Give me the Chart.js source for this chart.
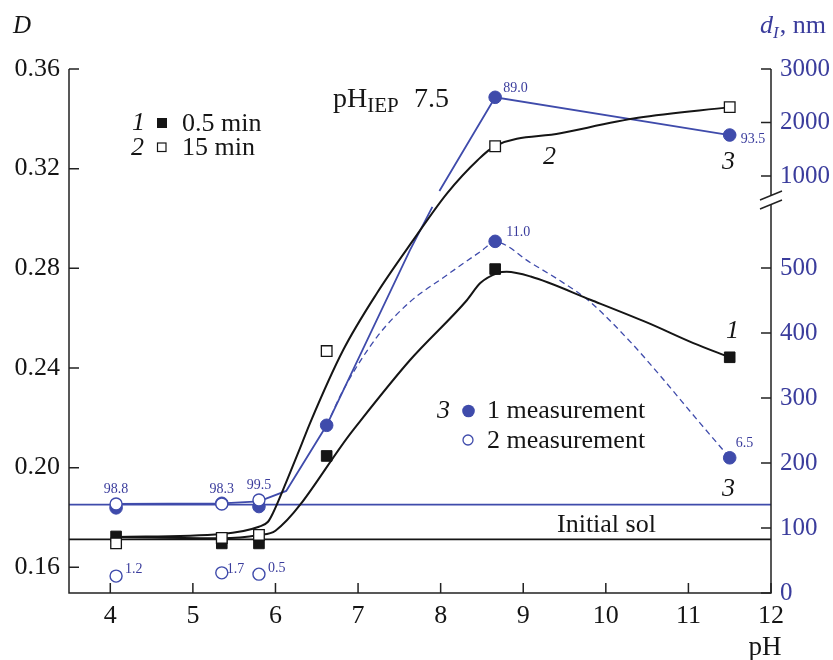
<!DOCTYPE html>
<html>
<head>
<meta charset="utf-8">
<script src="https://cdn.jsdelivr.net/npm/chart.js@4.4.1/dist/chart.umd.min.js"></script>
<style>
  html, body { margin:0; padding:0; background:#fff; }
  #wrap { width:833px; height:660px; position:relative; }
</style>
</head>
<body>
<div id="wrap"><canvas id="c"></canvas></div>
<script>
const SERIF = "'Liberation Serif', 'DejaVu Serif', serif";
const INK = '#151515';
const BLUE = '#3f4bab';
const BLUE_TXT = '#3a3c9c';

// axes
const xMin = 3.5, xMax = 12;
const xTicks = [4, 5, 6, 7, 8, 9, 10, 11, 12];
const dTicks = [0.16, 0.20, 0.24, 0.28, 0.32, 0.36];
const nmTicks = [0, 100, 200, 300, 400, 500, 1000, 2000, 3000];

// optical density D, measured points
const phPts = [4.07, 5.35, 5.8, 6.62, 8.66, 11.5];
const dHalfMin = [0.1724, 0.1696, 0.1696, 0.2047, 0.2797, 0.2443];
const d15Min = [0.1696, 0.1718, 0.1730, 0.2468, 0.3290, 0.3447];

// particle size d_I, nm : 1 measurement (filled), 2 measurement (open)
const nm1Ph = [4.07, 5.35, 5.8, 6.62, 8.66, 11.5, 8.66, 11.5];
const nm1 = [131, 138, 133, 258, 2471, 1766, 541, 208];
const nm2Ph = [4.07, 5.35, 5.8, 4.07, 5.35, 5.8];
const nm2 = [137, 137, 143, 26, 31, 29];

// fraction share (%) printed beside the points
const pctText = ['98.8', '98.3', '99.5', '89.0', '93.5', '11.0', '6.5', '1.2', '1.7', '0.5'];
const pctPh = [4.07, 5.35, 5.8, 8.66, 11.5, 8.66, 11.5, 4.07, 5.35, 5.8];
const pctNm = [137, 137, 143, 2471, 1766, 541, 208, 26, 31, 29];
const pctOffset = [[0,-11,'center'],[0,-11,'center'],[0,-11,'center'],[8,-5,'left'],[11,8,'left'],
                   [11,-5,'left'],[6,-11,'left'],[9,-3,'left'],[5,0,'left'],[9,-2,'left']];

// fitted curves
const fit1Ph = [4.07, 5.35, 5.8, 6.0, 6.94, 7.63, 8.32, 8.48, 8.69, 8.8, 9.09, 9.82, 10.51, 11.06, 11.5];
const fit1D = [0.1722, 0.1717, 0.1730, 0.1747, 0.2151, 0.2432, 0.2673, 0.2741, 0.2781, 0.2786, 0.2767, 0.2673, 0.2581, 0.2500, 0.2443];
const fit2Ph = [4.07, 5.35, 5.8, 5.91, 5.97, 6.14, 6.30, 6.42, 6.82, 7.23, 7.67, 8.08, 8.45, 8.66, 9.45, 10.39, 11.5];
const fit2D = [0.1722, 0.1734, 0.1763, 0.1783, 0.1818, 0.1950, 0.2080, 0.2180, 0.2472, 0.2701, 0.2914, 0.3102, 0.3235, 0.3291, 0.3342, 0.3404, 0.3447];
const fit3LowPh = [4.07, 5.35, 5.8, 6.13, 6.62, 7.63, 7.9];
const fit3LowNm = [137, 138, 141, 157, 258, 528, 594];
const fit3UpPh = [7.985, 8.66, 11.5];
const fit3UpNm = [720, 2471, 1766];
const fit3DashPh = [6.62, 6.82, 7.23, 7.63, 8.03, 8.48, 8.66, 9.09, 9.5, 9.79, 10.3, 10.66, 11.11, 11.5];
const fit3DashNm = [258, 312, 394, 448, 485, 525, 540, 508, 476, 450, 386, 334, 266, 208];

const initialSolD = 0.1712;
const baseNm = 136;

// broken right axis: lower part linear 0..600, upper part 1000..3000 compressed
const LOW_MAX = 600, Y2_MAX = 806.15, UP_AT_1000 = 641.5, UP_SLOPE = 0.08233;
const nmToAxis = v => v <= LOW_MAX ? v : UP_AT_1000 + (v - 1000) * UP_SLOPE;

const pts = (xs, ys, f) => xs.map((x, i) => ({x, y: f ? f(ys[i]) : ys[i]}));

const frame = {
  id: 'frame',
  afterDraw(chart) {
    const {ctx, chartArea: a, scales: {x, y, y2}} = chart;
    ctx.save();
    ctx.strokeStyle = '#222';
    ctx.lineWidth = 1.5;
    // axis lines
    const breakY = 200;
    ctx.beginPath();
    ctx.moveTo(a.left, a.top); ctx.lineTo(a.left, a.bottom); ctx.lineTo(a.right, a.bottom);
    ctx.lineTo(a.right, breakY + 4.5);
    ctx.moveTo(a.right, breakY - 4.5); ctx.lineTo(a.right, a.top);
    ctx.stroke();
    // inward ticks
    ctx.beginPath();
    dTicks.forEach(v => { const p = y.getPixelForValue(v); ctx.moveTo(a.left, p); ctx.lineTo(a.left + 10, p); });
    xTicks.forEach(v => { const p = x.getPixelForValue(v); ctx.moveTo(p, a.bottom); ctx.lineTo(p, a.bottom - 10); });
    nmTicks.forEach(v => { const p = y2.getPixelForValue(nmToAxis(v)); ctx.moveTo(a.right, p); ctx.lineTo(a.right - 10, p); });
    ctx.stroke();
    // break marks
    ctx.lineWidth = 1.4;
    ctx.beginPath();
    [breakY - 4.5, breakY + 4.5].forEach(c => { ctx.moveTo(a.right - 11, c + 4.5); ctx.lineTo(a.right + 11, c - 4.5); });
    ctx.stroke();

    const t = (s, px, py, size, color, style, align) => {
      ctx.font = (style || '') + ' ' + size + 'px ' + SERIF;
      ctx.fillStyle = color; ctx.textAlign = align || 'left'; ctx.textBaseline = 'alphabetic';
      ctx.fillText(s, px, py);
      return ctx.measureText(s).width;
    };

    // axis titles
    t('D', 13, 33, 25, INK, 'italic');
    let w = t('d', 760, 33, 26, BLUE_TXT, 'italic');
    w += t('I', 760 + w, 38, 17, BLUE_TXT, 'italic');
    t(', nm', 760 + w + 1, 33, 26, BLUE_TXT);
    t('pH', 765, 655, 27, INK, '', 'center');

    // pH IEP
    w = t('pH', 333, 107, 28, INK);
    w += t('IEP', 333 + w, 112, 21, INK);
    t('7.5', 414, 107, 28, INK);

    // legends
    t('1', 132, 130, 26, INK, 'italic');
    t('2', 131, 155, 26, INK, 'italic');
    ctx.fillStyle = INK; ctx.fillRect(157, 118, 10, 10);
    ctx.lineWidth = 1.2; ctx.strokeStyle = INK; ctx.strokeRect(157.5, 143, 8.5, 8.5);
    t('0.5 min', 182, 131, 26, INK);
    t('15 min', 182, 155, 26, INK);

    t('3', 437, 418, 26, INK, 'italic');
    ctx.fillStyle = BLUE; ctx.beginPath(); ctx.arc(468.5, 411, 6.3, 0, Math.PI * 2); ctx.fill();
    ctx.strokeStyle = BLUE; ctx.lineWidth = 1.3; ctx.beginPath(); ctx.arc(468, 440, 5, 0, Math.PI * 2); ctx.stroke();
    t('1 measurement', 487, 418, 26, INK);
    t('2 measurement', 487, 448, 26, INK);

    t('Initial sol', 557, 532, 26, INK);

    // curve numbers
    t('2', 543, 164, 26, INK, 'italic');
    t('3', 722, 169, 26, INK, 'italic');
    t('1', 726, 338, 26, INK, 'italic');
    t('3', 722, 496, 26, INK, 'italic');

    // percentages
    pctText.forEach((s, i) => {
      const px = x.getPixelForValue(pctPh[i]);
      const py = y2.getPixelForValue(nmToAxis(pctNm[i]));
      const o = pctOffset[i];
      t(s, px + o[0], py + o[1], 14, BLUE_TXT, '', o[2]);
    });
    ctx.restore();
  }
};

const lineDs = (data, color, width, extra) => Object.assign({
  data, borderColor: color, borderWidth: width, pointRadius: 0, fill: false,
  showLine: true, cubicInterpolationMode: 'monotone', order: 10
}, extra || {});

new Chart(document.getElementById('c'), {
  type: 'line',
  data: {
    datasets: [
      // markers
      { data: pts(phPts, dHalfMin), showLine: false, pointStyle: 'rect', pointRadius: 7.5,
        pointBackgroundColor: INK, pointBorderColor: INK, pointBorderWidth: 1, order: 2 },
      { data: pts(phPts, d15Min), showLine: false, pointStyle: 'rect', pointRadius: 7.5,
        pointBackgroundColor: '#fff', pointBorderColor: INK, pointBorderWidth: 1.3, order: 1 },
      { data: pts(nm1Ph, nm1, nmToAxis), yAxisID: 'y2', showLine: false, pointRadius: 6.3,
        pointBackgroundColor: BLUE, pointBorderColor: BLUE, pointBorderWidth: 1, order: 4 },
      { data: pts(nm2Ph, nm2, nmToAxis), yAxisID: 'y2', showLine: false, pointRadius: 6,
        pointBackgroundColor: '#fff', pointBorderColor: BLUE, pointBorderWidth: 1.4, order: 3 },
      // fitted curves
      lineDs(pts(fit1Ph, fit1D), INK, 2),
      lineDs(pts(fit2Ph, fit2D), INK, 2),
      lineDs(pts(fit3LowPh, fit3LowNm, nmToAxis), BLUE, 1.8, {yAxisID: 'y2', cubicInterpolationMode: 'default', tension: 0}),
      lineDs(pts(fit3UpPh, fit3UpNm, nmToAxis), BLUE, 1.8, {yAxisID: 'y2', cubicInterpolationMode: 'default', tension: 0}),
      lineDs(pts(fit3DashPh, fit3DashNm, nmToAxis), BLUE, 1.3, {yAxisID: 'y2', borderDash: [6, 4]}),
      // reference levels
      lineDs([{x: xMin, y: initialSolD}, {x: xMax, y: initialSolD}], INK, 1.8, {order: 12}),
      lineDs([{x: xMin, y: nmToAxis(baseNm)}, {x: xMax, y: nmToAxis(baseNm)}], BLUE, 1.8, {yAxisID: 'y2', order: 12})
    ]
  },
  options: {
    responsive: true, maintainAspectRatio: false, animation: false, events: [],
    layout: {padding: {top: 69, left: 0, right: 0, bottom: 0}},
    plugins: {legend: {display: false}, tooltip: {enabled: false}},
    scales: {
      x: {
        type: 'linear', min: xMin, max: xMax,
        afterBuildTicks: s => { s.ticks = xTicks.map(v => ({value: v})); },
        afterFit: s => { s.height = 67; },
        grid: {display: false, drawTicks: false}, border: {display: false},
        ticks: {font: {family: SERIF, size: 26}, color: INK, padding: 8, autoSkip: false, maxRotation: 0,
                callback: v => String(v)}
      },
      y: {
        position: 'left', min: 0.1497, max: 0.36,
        afterBuildTicks: s => { s.ticks = dTicks.map(v => ({value: v})); },
        afterFit: s => { s.width = 69; },
        grid: {display: false, drawTicks: false}, border: {display: false},
        ticks: {font: {family: SERIF, size: 26}, color: INK, padding: 9, autoSkip: false,
                callback: v => v.toFixed(2)}
      },
      y2: {
        position: 'right', min: 0, max: Y2_MAX,
        afterBuildTicks: s => { s.ticks = nmTicks.map(v => ({value: nmToAxis(v)})); },
        afterFit: s => { s.width = 62; },
        grid: {display: false, drawTicks: false}, border: {display: false},
        ticks: {font: {family: SERIF, size: 25}, color: BLUE_TXT, padding: 9, autoSkip: false,
                callback: (v, i) => String(nmTicks[i])}
      }
    }
  },
  plugins: [frame]
});
</script>
</body>
</html>
